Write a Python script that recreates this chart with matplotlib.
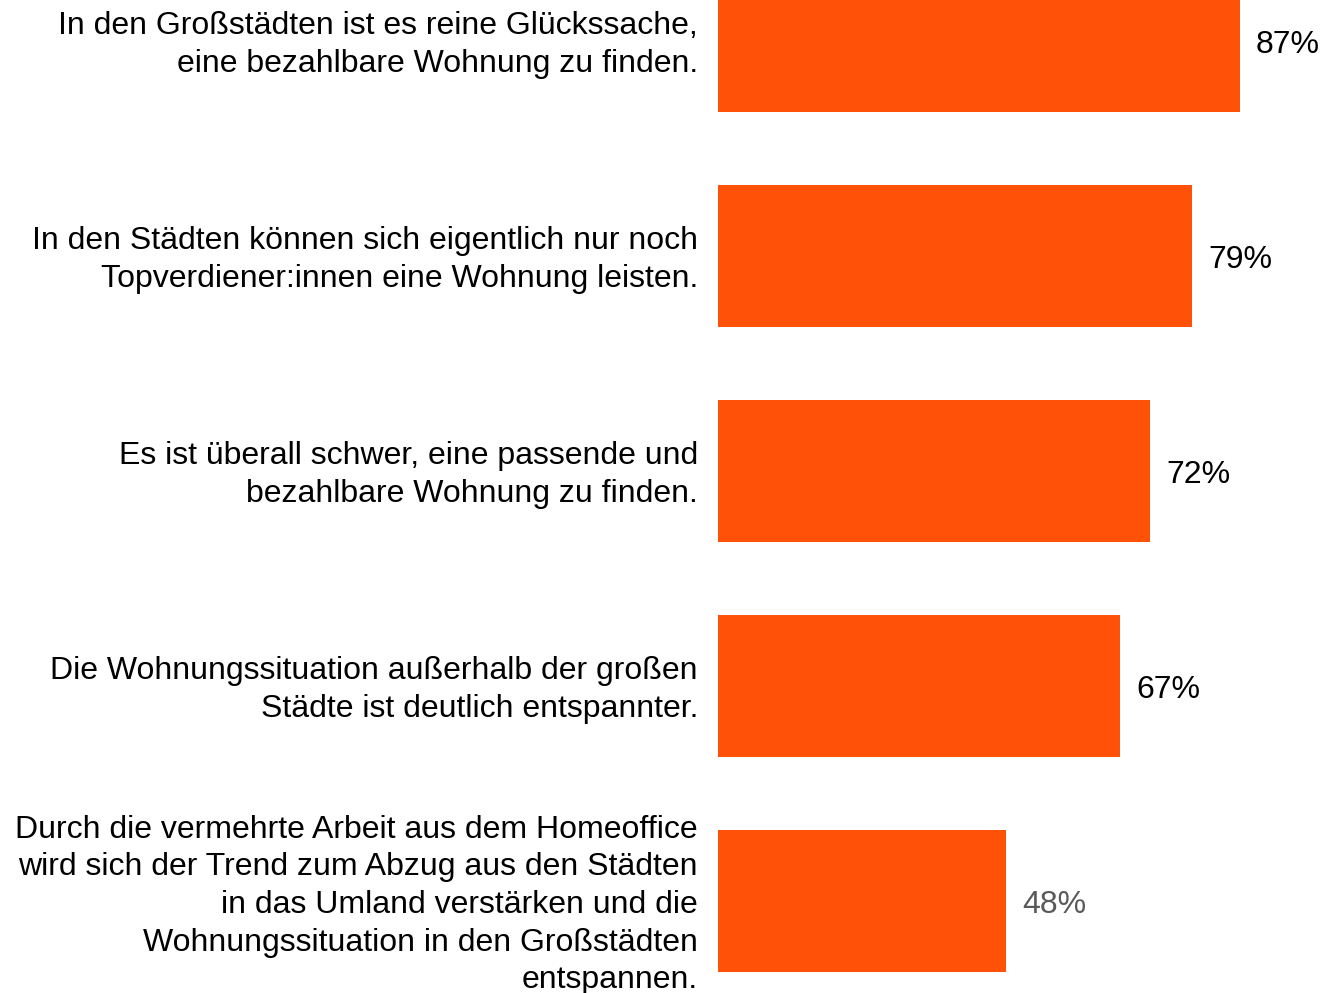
import matplotlib.pyplot as plt

labels = [
    "In den Großstädten ist es reine Glückssache,\neine bezahlbare Wohnung zu finden.",
    "In den Städten können sich eigentlich nur noch\nTopverdiener:innen eine Wohnung leisten.",
    "Es ist überall schwer, eine passende und\nbezahlbare Wohnung zu finden.",
    "Die Wohnungssituation außerhalb der großen\nStädte ist deutlich entspannter.",
    "Durch die vermehrte Arbeit aus dem Homeoffice\nwird sich der Trend zum Abzug aus den Städten\n"
    "in das Umland verstärken und die\nWohnungssituation in den Großstädten\nentspannen.",
]
values = [87, 79, 72, 67, 48]
value_colors = ["#000000", "#000000", "#000000", "#000000", "#595959"]

plt.rcParams['font.family'] = ['Liberation Sans', 'DejaVu Sans']

fig = plt.figure(figsize=(13.23, 9.93), dpi=100)
ax = fig.add_axes([718 / 1323, 0, 600 / 1323, 1])

pos = list(range(len(values)))
ax.barh(pos, values, height=0.66, color='#FF5208')
ax.set_xlim(0, 100)
ax.set_ylim((993 - 41) / 215, -41 / 215)

# small downward nudge (data units, 215 px per bar slot)
dy = 4 / 215

for p, v, c in zip(pos, values, value_colors):
    ax.text(v + 16 / 6, p + dy, f"{v}%", va='center', ha='left',
            fontsize=23, color=c)

for p, lab in zip(pos, labels):
    ax.text(-20 / 6, p + dy, lab, va='center', ha='right', fontsize=23,
            color='#000000', linespacing=1.33)

ax.axis('off')
fig.savefig('out.png', dpi=100)
